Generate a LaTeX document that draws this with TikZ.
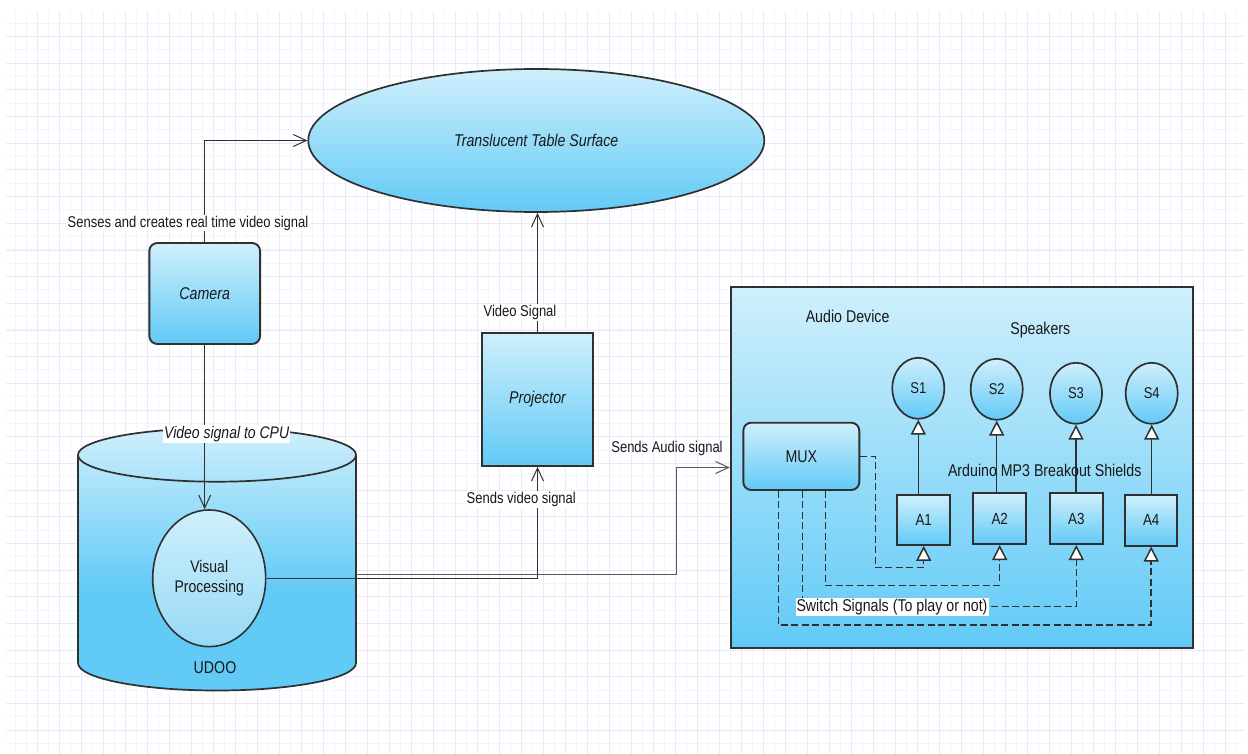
\documentclass[tikz,border=0pt]{standalone}
\usepackage{fontspec}
\setmainfont{Liberation Sans}
\usepackage{graphicx}
\usetikzlibrary{arrows.meta,shapes.geometric,calc}

\definecolor{ct}{RGB}{207,239,252}
\definecolor{cb}{RGB}{97,202,246}
\definecolor{vpb}{RGB}{150,218,246}
\definecolor{edge}{RGB}{48,48,48}
\definecolor{gminor}{RGB}{244,244,255}
\definecolor{gmajor}{RGB}{233,233,251}
\definecolor{ink}{RGB}{25,25,25}

% body of the UDOO cylinder: light at the top, solid blue in the lower half
\pgfdeclareverticalshading{udooshade}{100bp}{color(0bp)=(cb); color(25bp)=(cb); color(44bp)=(cb); color(75bp)=(ct); color(100bp)=(ct)}

% text is set slightly taller than wide
\newcommand{\tall}[1]{\scalebox{1}[1.2]{#1}}

\begin{document}
\begin{tikzpicture}[x=1pt,y=-1pt,
  box/.style={draw=edge, line width=1.9pt, top color=ct, bottom color=cb, inner sep=0pt},
  lbl/.style={font=\fontsize{13}{15}\selectfont, text=ink, inner sep=1.2pt},
  bigtxt/.style={font=\fontsize{14.2}{17}\selectfont, text=ink},
  smalltxt/.style={font=\fontsize{13.4}{16}\selectfont, text=ink},
  conn/.style={draw=edge, line width=1pt},
  barb/.style={-{Straight Barb[length=13pt,width=12pt]}},
  tri/.style={-{Triangle[length=15pt,width=15pt,fill=white]}},
  link/.style={draw=edge, line width=1.5pt},
  sw/.style={draw=edge, line width=1.5pt, dash pattern=on 7pt off 3.5pt},
]
\useasboundingbox (0,0) rectangle (1248,754);
\fill[white] (0,0) rectangle (1248,754);

% background grid
\foreach \x in {15,26,...,1244} \draw[gminor, line width=1pt] (\x,11) -- (\x,754);
\foreach \i in {0,...,54}{
  \pgfmathsetmacro\yy{23.333+13.3333*\i}
  \draw[gminor, line width=1pt] (6,\yy) -- (1244,\yy);}
\foreach \x in {37,59,...,1244} \draw[gmajor, line width=1pt] (\x,11) -- (\x,754);
\foreach \i in {0,...,26}{
  \pgfmathsetmacro\yy{36.667+26.6667*\i}
  \draw[gmajor, line width=1pt] (6,\yy) -- (1244,\yy);}

% table surface
\node[box, ellipse, line width=1.7pt, minimum width=456pt, minimum height=143pt, bigtxt] (table) at (536.3,140.5) {\tall{\itshape Translucent Table Surface}};

% camera
\node[box, rounded corners=8pt, minimum width=110.7pt, minimum height=101pt, bigtxt] (cam) at (204.7,293.5) {\tall{\itshape Camera}};

% UDOO cylinder
\shadedraw[shading=udooshade, draw=edge, line width=1.7pt]
  (78,455) arc[start angle=180, end angle=0, x radius=139pt, y radius=26.7pt]
  -- (356,663) arc[start angle=0, end angle=-180, x radius=139pt, y radius=27.5pt] -- cycle;
\draw[edge, line width=1.7pt] (78,455) arc[start angle=180, end angle=360, x radius=139pt, y radius=26.7pt];
\node[bigtxt] (udoo) at (215,667.7) {\tall{UDOO}};
\coordinate (udoo-out) at (356,574.3);

% visual processing
\node[box, ellipse, line width=1.6pt, bottom color=vpb, minimum width=113pt, minimum height=136.7pt] (vp) at (209.2,578.3)
  {\tall{\fontsize{14}{16.7}\selectfont\color{ink}\begin{tabular}{@{}c@{}}Visual\\Processing\end{tabular}}};

% projector
\node[box, minimum width=110.4pt, minimum height=133.3pt, bigtxt] (proj) at (537.5,399.3) {\tall{\itshape Projector}};

% audio device
\node[box, minimum width=462.6pt, minimum height=360.4pt] (audio) at (962,467.5) {};
\node[bigtxt] (audiolbl) at (847.6,316.7) {\tall{Audio Device}};
\node[bigtxt] (spk) at (1040.3,330) {\tall{Speakers}};

\node[box, rounded corners=8pt, minimum width=116pt, minimum height=67.3pt, bigtxt] (mux) at (801.3,456.35) {\tall{MUX}};

\node[box, ellipse, line width=1.7pt, minimum width=52pt, minimum height=61pt, lbl] (s1) at (918.3,388.3) {\tall{S1}};
\node[box, ellipse, line width=1.7pt, minimum width=52pt, minimum height=61pt, lbl] (s2) at (996.7,389.3) {\tall{S2}};
\node[box, ellipse, line width=1.7pt, minimum width=52pt, minimum height=61pt, lbl] (s3) at (1076,393.3) {\tall{S3}};
\node[box, ellipse, line width=1.7pt, minimum width=52pt, minimum height=61pt, lbl] (s4) at (1151.7,393.3) {\tall{S4}};

\node[box, minimum width=52.7pt, minimum height=50pt, smalltxt] (a1) at (923.7,520) {\tall{A1}};
\node[box, minimum width=52.7pt, minimum height=50.7pt, smalltxt] (a2) at (999.7,518.7) {\tall{A2}};
\node[box, minimum width=52.7pt, minimum height=50.7pt, smalltxt] (a3) at (1076.3,518.7) {\tall{A3}};
\node[box, minimum width=52.3pt, minimum height=50.7pt, smalltxt] (a4) at (1151.2,520.3) {\tall{A4}};

% shields drive the speakers
\draw[link, tri] (s1 |- a1.north) -- (s1.south);
\draw[link, tri] (s2 |- a2.north) -- (s2.south);
\draw[link, tri] (s3 |- a3.north) -- (s3.south);
\draw[link, tri] (s4 |- a4.north) -- (s4.south);
\node[bigtxt] (ard) at (1044.7,470.7) {\tall{Arduino MP3 Breakout Shields}};

% switch signals from the multiplexer
\draw[sw, tri] (mux.east) -- ++(15,0) |- ($(a1.south)+(0,21.7)$) -- (a1.south);
\draw[sw, tri] ($(mux.south)+(24,0)$) |- ($(a2.south)+(0,40.3)$) -- (a2.south);
\draw[sw, tri] ($(mux.south)+(1,0)$) |- ($(a3.south)+(0,61.7)$) -- (a3.south);
\draw[sw, tri] ($(mux.south)+(-23,0)$) |- ($(a4.south)+(0,78.3)$) -- (a4.south);
\node[bigtxt, fill=white, inner sep=1pt] (swlbl) at (892,606.7) {\tall{Switch Signals (To play or not)}};

% main signal flow
\draw[conn, barb] (cam.north) |- (table.west);
\node[lbl, fill=white] (senselbl) at (188,223) {\tall{Senses and creates real time video signal}};

\draw[conn, barb] (cam.south) -- (cam.south |- vp.north);
\node[bigtxt, fill=white, inner sep=1pt, font=\fontsize{14}{16}\selectfont\itshape] (cpulbl) at (226.7,434) {\tall{Video signal to CPU}};

\draw[conn, barb] (vp.east) -| (proj.south);
\node[lbl, fill=white] (svlbl) at (521.3,499.3) {\tall{Sends video signal}};

\draw[conn, barb] (proj.north) -- (proj.north |- table.south);
\node[lbl, fill=white] (vslbl) at (520,312.7) {\tall{Video Signal}};

\draw[conn, barb, draw=edge!80] (udoo-out) -- (676,574.3) |- (audio.west);
\node[lbl] (salbl) at (667,448.3) {\tall{Sends Audio signal}};
\end{tikzpicture}
\end{document}
